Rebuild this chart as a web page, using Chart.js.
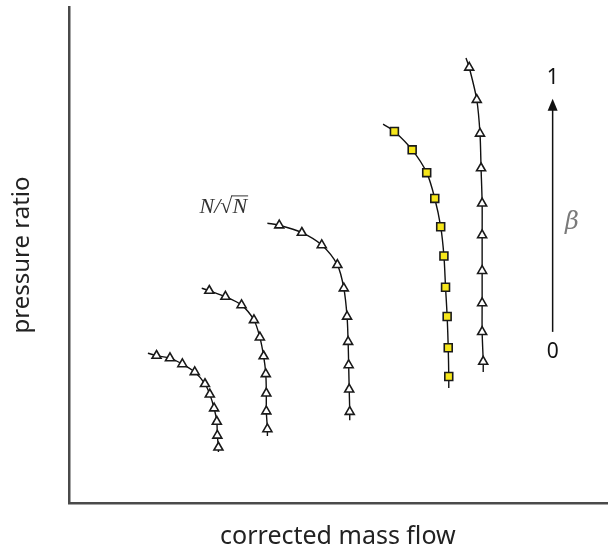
<!DOCTYPE html>
<html>
<head>
<meta charset="utf-8">
<script src="https://cdn.jsdelivr.net/npm/chart.js@4.4.1/dist/chart.umd.min.js"></script>
<style>
  html, body { margin: 0; padding: 0; background: #fff; }
  #wrap { width: 609px; height: 557px; }
</style>
</head>
<body>
<div id="wrap"><canvas id="myChart" width="609" height="557"></canvas></div>
<script>
// speed lines of a compressor map (first and last point of each are just line stubs)
var line1X = [14.7, 16.3, 18.8, 21.1, 23.4, 25.3, 26.2, 27.0, 27.5, 27.6, 27.8, 27.8];
var line1Y = [30.2, 29.7, 29.2, 28.0, 26.4, 24.0, 21.9, 19.1, 16.4, 13.6, 11.2, 10.3];

var line2X = [24.7, 26.1, 29.1, 32.1, 34.4, 35.5, 36.2, 36.6, 36.7, 36.7, 36.9, 36.9];
var line2Y = [43.3, 42.8, 41.6, 39.9, 36.9, 33.4, 29.6, 26.0, 22.1, 18.5, 14.9, 13.5];

var line3X = [36.9, 39.1, 43.3, 47.0, 49.9, 51.1, 51.7, 51.9, 52.0, 52.1, 52.2, 52.2];
var line3Y = [56.4, 56.0, 54.5, 52.0, 48.0, 43.3, 37.6, 32.5, 27.8, 22.9, 18.4, 16.7];

var line4X = [58.4, 60.5, 63.8, 66.5, 68.0, 69.1, 69.7, 70.0, 70.3, 70.5, 70.6, 70.6];
var line4Y = [76.4, 74.9, 71.2, 66.6, 61.4, 55.7, 49.8, 43.5, 37.6, 31.3, 25.5, 23.2];

var line5X = [73.8, 74.4, 75.8, 76.4, 76.6, 76.8, 76.8, 76.8, 76.8, 76.8, 77.0, 77.0];
var line5Y = [89.7, 87.8, 81.3, 74.5, 67.5, 60.4, 54.0, 46.8, 40.3, 34.5, 28.5, 26.4];

// beta arrow, from 0 to 1
var betaX = 89.9;
var betaY = [34.5, 81.5];
var betaLabels = ['0', '1'];
var betaLabelY = [30.4, 85.7];

var xTitle = 'corrected mass flow';
var yTitle = 'pressure ratio';

function pts(xs, ys) {
    var out = [];
    for (var i = 0; i < xs.length; i++) out.push({x: xs[i], y: ys[i]});
    return out;
}

function speedLine(xs, ys, style, fill, size) {
    var n = xs.length;
    return {
        data: pts(xs, ys),
        showLine: true,
        borderColor: '#111',
        borderWidth: 1.4,
        tension: 0.3,
        pointStyle: style,
        pointBackgroundColor: fill,
        pointBorderColor: '#1a1a1a',
        pointBorderWidth: 1.6,
        pointRadius: function(c){ return (c.dataIndex === 0 || c.dataIndex === n - 1) ? 0 : size; }
    };
}

var extras = {
    id: 'extras',
    afterDatasetsDraw: function(chart) {
        var c = chart.ctx;
        var xs = chart.scales.x, ys = chart.scales.y;
        var bx = xs.getPixelForValue(betaX);
        var y0 = ys.getPixelForValue(betaY[0]);
        var y1 = ys.getPixelForValue(betaY[1]);
        c.save();
        c.strokeStyle = '#111';
        c.fillStyle = '#111';
        c.lineWidth = 1.5;
        c.beginPath();
        c.moveTo(bx, y0);
        c.lineTo(bx, y1 + 8);
        c.stroke();
        c.beginPath();
        c.moveTo(bx, y1);
        c.lineTo(bx - 5, y1 + 12);
        c.lineTo(bx + 5, y1 + 12);
        c.closePath();
        c.fill();

        c.textAlign = 'center';
        c.textBaseline = 'middle';
        c.font = '21px "Noto Sans"';
        for (var i = 0; i < betaLabels.length; i++) {
            c.fillText(betaLabels[i], bx, ys.getPixelForValue(betaLabelY[i]));
        }
        c.fillStyle = '#7a7a7a';
        c.font = 'italic 24px "DejaVu Serif"';
        c.fillText('\u03b2', xs.getPixelForValue(93.5), ys.getPixelForValue(56.5));

        // N/sqrt(N) label with a bar over the root
        c.fillStyle = '#333';
        c.strokeStyle = '#333';
        c.font = 'italic 22px "Liberation Serif"';
        c.textAlign = 'left';
        c.textBaseline = 'alphabetic';
        var lx = xs.getPixelForValue(24.3);
        var ly = ys.getPixelForValue(60.1) + 8;
        var w1 = c.measureText('N/').width;
        c.fillText('N/', lx, ly);
        c.font = '22px "Liberation Serif"';
        var w2 = c.measureText('\u221a').width;
        c.fillText('\u221a', lx + w1, ly);
        c.font = 'italic 22px "Liberation Serif"';
        var w3 = c.measureText('N').width;
        c.fillText('N', lx + w1 + w2, ly);
        c.lineWidth = 1;
        c.beginPath();
        c.moveTo(lx + w1 + w2 - 1, ly - 17);
        c.lineTo(lx + w1 + w2 + w3 + 1, ly - 17);
        c.stroke();
        c.restore();
    }
};

var ctx = document.getElementById('myChart').getContext('2d');
var myChart = new Chart(ctx, {
    type: 'scatter',
    data: {
        datasets: [
            speedLine(line1X, line1Y, 'triangle', '#fff', 5.2),
            speedLine(line2X, line2Y, 'triangle', '#fff', 5.2),
            speedLine(line3X, line3Y, 'triangle', '#fff', 5.2),
            speedLine(line4X, line4Y, 'rect', '#f6e61a', 5.6),
            speedLine(line5X, line5Y, 'triangle', '#fff', 5.2)
        ]
    },
    options: {
        responsive: false,
        animation: false,
        layout: { padding: { top: 7, right: 2, left: 0, bottom: 0 } },
        plugins: { legend: { display: false }, tooltip: { enabled: false } },
        scales: {
            x: {
                type: 'linear', min: 0, max: 100,
                grid: { display: false, drawTicks: false },
                ticks: { display: false },
                border: { display: true, color: '#4a4a4a', width: 2.5 },
                title: { display: true, text: xTitle, color: '#222',
                         font: { family: 'Noto Sans', size: 25 }, padding: { top: 19, bottom: 5 } }
            },
            y: {
                type: 'linear', min: 0, max: 100,
                grid: { display: false, drawTicks: false },
                ticks: { display: false },
                border: { display: true, color: '#4a4a4a', width: 2.5 },
                title: { display: true, text: yTitle, color: '#222',
                         font: { family: 'Noto Sans', size: 24 }, padding: { top: 8, bottom: 32 } }
            }
        }
    },
    plugins: [extras]
});
</script>
</body>
</html>
